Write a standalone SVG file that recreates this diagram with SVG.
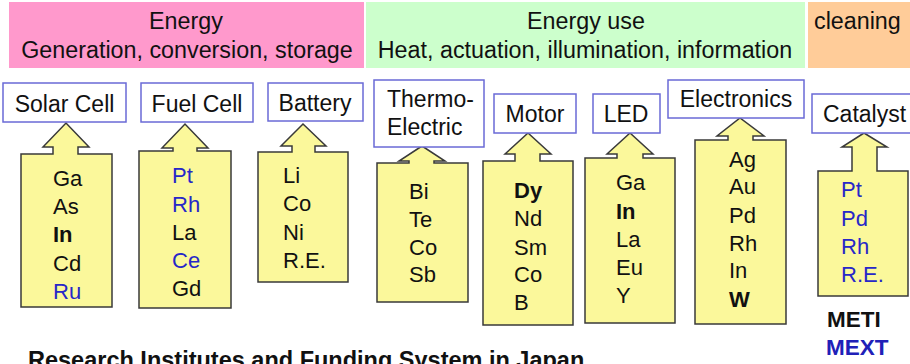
<svg xmlns="http://www.w3.org/2000/svg" width="910" height="364" viewBox="0 0 910 364">
<style>
text{font-family:"Liberation Sans",Arial,sans-serif;fill:#111}
.hd{font-size:23.3px;text-anchor:middle}
.lb{font-size:23px;text-anchor:middle}
.lbl{fill:#fff;stroke:#6a6ad6;stroke-width:1.5}
.arr{fill:#fbf89b;stroke:#3a3a3a;stroke-width:1.5;stroke-linejoin:miter}
.el{font-size:22px}
.b{font-weight:bold}
.bl{fill:#2727c8}
.agency{font-size:22.5px;font-weight:bold}
</style>
<rect width="910" height="364" fill="#fff"/>
<g id="header-generation">
<rect x="9" y="2" width="355" height="66" fill="#ff99cc"/>
<text class="hd" x="186" y="29">Energy</text>
<text class="hd" x="187" y="58">Generation, conversion, storage</text>
</g>
<g id="header-use">
<rect x="366" y="2" width="439" height="66" fill="#ccffcc"/>
<text class="hd" x="586" y="29">Energy use</text>
<text class="hd" x="585" y="58">Heat, actuation, illumination, information</text>
</g>
<g id="header-cleaning">
<rect x="808" y="2" width="102" height="66" fill="#ffcc99"/>
<text class="hd" x="814" y="29" style="text-anchor:start">cleaning</text>
</g>

<g id="solar-cell-materials">
<path class="arr" d="M21,154 H53 V147 H43 L66,123 L89,147 H78 V154 H112 V307 H21 Z"/>
<text class="el" x="53" y="186">Ga</text>
<text class="el" x="53" y="214">As</text>
<text class="el b" x="53" y="242">In</text>
<text class="el" x="53" y="271">Cd</text>
<text class="el bl" x="53" y="299">Ru</text>
</g>
<g id="solar-cell">
<rect class="lbl" x="3" y="83" width="123" height="39"/>
<text class="lb" x="64.5" y="112">Solar Cell</text>
</g>

<g id="fuel-cell-materials">
<path class="arr" d="M139,151 H173 V148 H162 L185,124 L208,148 H197 V151 H231 V308 H139 Z"/>
<text class="el bl" x="172" y="183">Pt</text>
<text class="el bl" x="172" y="212">Rh</text>
<text class="el" x="172" y="240">La</text>
<text class="el bl" x="172" y="268">Ce</text>
<text class="el" x="172" y="296">Gd</text>
</g>
<g id="fuel-cell">
<rect class="lbl" x="141" y="83" width="112" height="39"/>
<text class="lb" x="197" y="112">Fuel Cell</text>
</g>

<g id="battery-materials">
<path class="arr" d="M258,152 H292 V146 H281 L303,124 L326,146 H315 V152 H348 V282 H258 Z"/>
<text class="el" x="283" y="183">Li</text>
<text class="el" x="283" y="211">Co</text>
<text class="el" x="283" y="240">Ni</text>
<text class="el" x="283" y="268">R.E.</text>
</g>
<g id="battery">
<rect class="lbl" x="268" y="83" width="95" height="38"/>
<text class="lb" x="315" y="111">Battery</text>
</g>

<g id="thermoelectric-materials">
<path class="arr" d="M377,163 H409 V161 H399 L422,146 L445,161 H434 V163 H468 V302 H377 Z"/>
<text class="el" x="409" y="199">Bi</text>
<text class="el" x="409" y="227">Te</text>
<text class="el" x="409" y="255">Co</text>
<text class="el" x="409" y="282">Sb</text>
</g>
<g id="thermoelectric">
<rect class="lbl" x="374" y="80" width="110" height="67"/>
<text class="lb" x="387" y="107" style="text-anchor:start">Thermo-</text>
<text class="lb" x="387" y="135" style="text-anchor:start">Electric</text>
</g>

<g id="motor-materials">
<path class="arr" d="M483,161 H515 V154 H505 L528,133 L551,154 H540 V161 H573 V325 H483 Z"/>
<text class="el b" x="514" y="198">Dy</text>
<text class="el" x="514" y="226">Nd</text>
<text class="el" x="514" y="255">Sm</text>
<text class="el" x="514" y="282">Co</text>
<text class="el" x="514" y="310">B</text>
</g>
<g id="motor">
<rect class="lbl" x="494" y="94" width="82" height="39"/>
<text class="lb" x="535" y="122">Motor</text>
</g>

<g id="led-materials">
<path class="arr" d="M585,158 H617 V154 H607 L630,133 L653,154 H643 V158 H675 V323 H585 Z"/>
<text class="el" x="616" y="190">Ga</text>
<text class="el b" x="616" y="219">In</text>
<text class="el" x="616" y="247">La</text>
<text class="el" x="616" y="275">Eu</text>
<text class="el" x="616" y="303">Y</text>
</g>
<g id="led">
<rect class="lbl" x="593" y="94" width="67" height="39"/>
<text class="lb" x="626" y="122">LED</text>
</g>

<g id="electronics-materials">
<path class="arr" d="M695,140 H728 V136 H717 L740,118 L764,136 H753 V140 H786 V324 H695 Z"/>
<text class="el" x="729" y="167">Ag</text>
<text class="el" x="729" y="194">Au</text>
<text class="el" x="729" y="223">Pd</text>
<text class="el" x="729" y="251">Rh</text>
<text class="el" x="729" y="278">In</text>
<text class="el b" x="729" y="307">W</text>
</g>
<g id="electronics">
<rect class="lbl" x="668" y="80" width="136" height="38"/>
<text class="lb" x="736" y="107">Electronics</text>
</g>

<g id="catalyst-materials">
<path class="arr" d="M818,171 H852 V147 H842 L864,133 L887,147 H877 V171 H908 V296 H818 Z"/>
<text class="el bl" x="841" y="197">Pt</text>
<text class="el bl" x="841" y="226">Pd</text>
<text class="el bl" x="841" y="254">Rh</text>
<text class="el bl" x="841" y="282">R.E.</text>
</g>
<g id="catalyst">
<rect class="lbl" x="812" y="94" width="100" height="39"/>
<text class="lb" x="823" y="122" style="text-anchor:start">Catalyst</text>
</g>

<g id="agencies">
<text class="agency" x="827" y="327">METI</text>
<text class="agency" x="826" y="355" style="fill:#2020b8">MEXT</text>
</g>
<g id="footer">
<text x="28" y="368" style="font-size:23.5px;font-weight:bold">Research Institutes and Funding System in Japan</text>
</g>
</svg>
